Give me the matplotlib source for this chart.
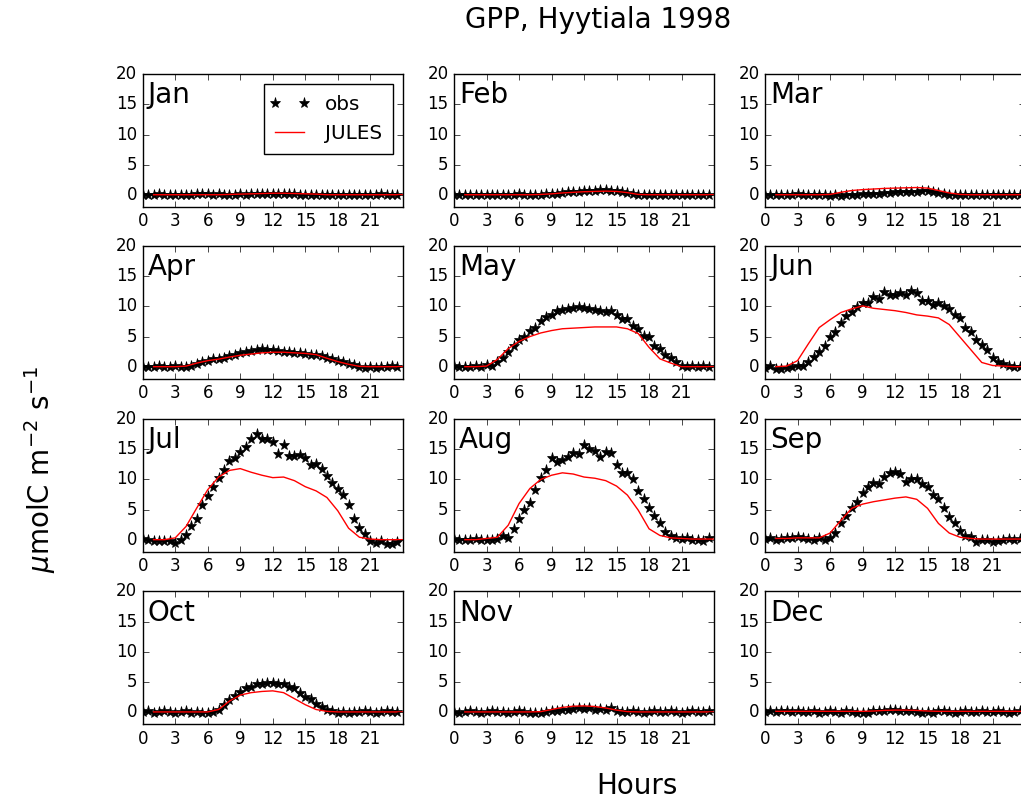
import numpy as np
import matplotlib
matplotlib.use('Agg')
import matplotlib.pyplot as plt
from matplotlib.lines import Line2D
from matplotlib.legend_handler import HandlerLine2D

# half-hourly observations (0.0 ... 23.5 h) and hourly JULES output (1 ... 24 h)
hours_obs = np.arange(0, 24, 0.5)
hours_mod = np.arange(1, 25)

months = ['Jan', 'Feb', 'Mar', 'Apr', 'May', 'Jun',
          'Jul', 'Aug', 'Sep', 'Oct', 'Nov', 'Dec']

jan_obs = [-0.1, 0.0, -0.1, 0.1, 0.0, -0.1, 0.0, 0.0,
           -0.1, 0.0, 0.1, 0.2, 0.1, 0.0, 0.1, 0.0,
           -0.1, 0.0, 0.1, 0.0, 0.1, 0.2, 0.1, 0.2,
           0.2, 0.1, 0.2, 0.1, 0.1, 0.0, -0.1, 0.0,
           0.0, -0.1, 0.0, -0.1, 0.0, 0.0, -0.1, 0.0,
           0.0, -0.1, 0.0, 0.0, 0.1, 0.0, 0.0, -0.1]
jan_mod = [0.0, 0.0, 0.0, 0.0, 0.0, 0.0, 0.0, 0.05, 0.1, 0.15, 0.2, 0.25,
           0.25, 0.2, 0.15, 0.1, 0.0, 0.0, 0.0, 0.0, 0.0, 0.0, 0.0, 0.0]

feb_obs = [-0.1, 0.0, -0.1, 0.0, -0.1, 0.0, 0.0, -0.1,
           0.0, -0.1, 0.0, 0.0, 0.1, 0.0, -0.1, 0.0,
           0.0, 0.1, 0.2, 0.2, 0.3, 0.4, 0.5, 0.5,
           0.6, 0.6, 0.7, 0.8, 0.8, 0.7, 0.6, 0.5,
           0.3, 0.1, 0.0, -0.1, 0.0, -0.1, 0.0, 0.0,
           -0.1, 0.0, 0.0, -0.1, 0.0, 0.0, -0.1, 0.0]
feb_mod = [0.0, 0.0, 0.0, 0.0, 0.0, 0.0, 0.0, 0.05, 0.15, 0.3, 0.4, 0.5,
           0.55, 0.6, 0.55, 0.35, 0.05, 0.0, 0.0, 0.0, 0.0, 0.0, 0.0, 0.0]

mar_obs = [0.0, -0.1, 0.0, 0.0, -0.1, 0.0, 0.1, 0.0,
           -0.1, -0.1, 0.0, -0.1, -0.2, -0.1, -0.2, -0.1,
           -0.1, 0.0, 0.1, 0.1, 0.2, 0.2, 0.3, 0.3,
           0.4, 0.4, 0.5, 0.4, 0.5, 0.6, 0.7, 0.4,
           0.3, 0.1, 0.0, 0.0, -0.1, 0.0, 0.0, -0.1,
           0.0, 0.0, -0.1, 0.0, 0.0, -0.1, 0.0, 0.0]
mar_mod = [0.0, 0.0, 0.0, 0.0, 0.0, 0.05, 0.4, 0.7, 0.85, 0.95, 1.05, 1.1,
           1.15, 1.2, 1.1, 0.7, 0.3, 0.05, 0.0, 0.0, 0.0, 0.0, 0.0, 0.0]

apr_obs = [-0.1, 0.0, 0.0, 0.1, 0.0, 0.0, 0.1, 0.0,
           0.0, 0.1, 0.4, 0.7, 1.0, 1.2, 1.3, 1.5,
           1.7, 1.9, 2.2, 2.4, 2.6, 2.8, 2.9, 2.8,
           2.7, 2.6, 2.5, 2.4, 2.3, 2.2, 2.1, 2.0,
           1.9, 1.7, 1.5, 1.2, 1.0, 0.7, 0.4, 0.2,
           0.0, -0.2, -0.1, -0.2, 0.0, 0.0, 0.1, 0.0]
apr_mod = [0.0, 0.0, 0.0, 0.1, 0.6, 1.0, 1.25, 1.6, 1.9, 2.1, 2.3, 2.4,
           2.4, 2.3, 2.2, 2.0, 1.4, 0.85, 0.4, 0.05, 0.0, 0.0, 0.0, 0.0]

may_obs = [0.1, 0.0, -0.1, 0.0, 0.1, 0.0, 0.2, 0.1,
           0.8, 1.5, 2.5, 3.4, 4.5, 5.0, 6.0, 6.5,
           7.6, 8.2, 8.6, 9.2, 9.4, 9.6, 9.7, 9.9,
           9.7, 9.5, 9.4, 9.2, 9.0, 9.2, 8.5, 7.9,
           8.0, 6.8, 6.2, 5.1, 5.0, 3.4, 2.9, 2.0,
           1.4, 0.7, 0.1, 0.0, 0.1, -0.1, 0.1, 0.0]
may_mod = [0.0, 0.0, 0.1, 1.2, 3.0, 4.2, 5.0, 5.6, 6.0, 6.3, 6.4, 6.5,
           6.6, 6.6, 6.6, 6.3, 5.5, 3.2, 1.3, 0.6, 0.0, 0.0, 0.0, 0.0]

jun_obs = [-0.2, 0.1, -0.4, -0.4, -0.2, 0.0, 0.1, 0.1,
           0.8, 1.6, 2.5, 3.4, 5.0, 5.8, 7.2, 8.4,
           9.0, 9.9, 10.6, 10.6, 11.5, 11.2, 12.4, 11.9,
           11.9, 12.3, 11.9, 12.6, 12.2, 10.9, 10.9, 10.2,
           10.6, 10.0, 9.6, 8.5, 8.1, 6.4, 5.8, 4.4,
           3.6, 2.8, 1.4, 0.7, 0.4, 0.1, 0.0, -0.1]
jun_mod = [0.0, 0.1, 1.0, 3.8, 6.5, 7.8, 9.0, 9.6, 10.1, 9.7, 9.5, 9.3,
           9.0, 8.6, 8.4, 8.1, 7.0, 4.9, 2.8, 0.7, 0.2, 0.1, 0.0, 0.0]

jul_obs = [0.1, 0.0, -0.3, -0.3, -0.3, -0.2, -0.5, 0.0,
           0.8, 2.2, 3.5, 5.8, 7.3, 8.8, 10.2, 11.5,
           13.1, 13.5, 14.5, 15.4, 16.8, 17.5, 16.7, 16.7,
           16.3, 14.3, 15.8, 13.9, 13.9, 14.0, 13.5, 12.4,
           12.6, 11.7, 10.5, 9.4, 8.4, 7.4, 5.8, 3.4,
           2.0, 1.0, -0.2, -0.6, -0.3, -0.8, -0.7, -0.4]
jul_mod = [0.0, 0.0, 0.3, 2.2, 5.3, 8.3, 10.4, 11.5, 11.8, 11.2, 10.7, 10.3,
           10.4, 9.8, 8.8, 8.1, 7.0, 4.8, 1.9, 0.4, 0.1, 0.0, 0.0, 0.0]

aug_obs = [0.1, 0.0, -0.1, 0.0, 0.1, 0.0, -0.1, 0.0,
           0.1, 0.6, 0.3, 1.8, 3.4, 4.9, 6.1, 8.3,
           10.2, 11.6, 13.5, 12.9, 13.3, 13.7, 14.4, 14.3,
           15.8, 15.0, 14.7, 13.8, 14.6, 14.4, 12.4, 11.0,
           11.0, 10.0, 8.1, 6.7, 5.3, 3.9, 2.8, 1.3,
           0.6, 0.3, 0.1, 0.2, -0.1, 0.0, -0.3, 0.2]
aug_mod = [0.0, 0.0, 0.2, 0.4, 2.4, 6.0, 8.5, 10.0, 10.7, 11.1, 10.9, 10.4,
           10.2, 9.8, 8.9, 7.4, 4.9, 1.8, 0.7, 0.3, 0.2, 0.1, 0.1, 0.1]

sep_obs = [0.1, 0.2, 0.0, 0.1, 0.2, 0.3, 0.4, 0.2,
           0.1, -0.1, 0.2, 0.0, 0.3, 1.1, 2.7, 3.9,
           5.2, 6.3, 7.8, 8.7, 9.4, 9.3, 10.4, 11.1,
           11.3, 10.9, 9.6, 10.1, 10.0, 9.2, 8.7, 7.4,
           6.8, 5.3, 3.8, 2.7, 1.4, 0.6, 0.4, -0.4,
           -0.1, 0.0, -0.4, -0.3, 0.0, 0.1, 0.0, 0.1]
sep_mod = [0.2, 0.2, 0.3, 0.3, 0.3, 1.1, 3.2, 5.2, 5.9, 6.3, 6.6, 6.9,
           7.1, 6.7, 5.2, 2.7, 1.1, 0.4, 0.2, 0.1, 0.1, 0.1, 0.1, 0.1]

oct_obs = [0.0, 0.1, -0.1, 0.0, 0.1, 0.0, -0.1, 0.0,
           0.1, -0.1, 0.0, -0.1, -0.1, 0.0, 0.3, 1.1,
           1.9, 2.6, 3.3, 3.9, 4.1, 4.7, 4.6, 4.8,
           4.8, 4.7, 4.6, 4.2, 3.9, 3.2, 2.5, 2.1,
           1.4, 0.9, 0.4, 0.1, -0.1, 0.0, -0.1, 0.0,
           0.0, 0.1, 0.0, -0.1, 0.0, 0.1, 0.0, 0.0]
oct_mod = [0.0, 0.0, 0.0, 0.0, 0.0, 0.0, 0.4, 1.8, 2.8, 3.2, 3.4, 3.5,
           3.2, 2.2, 1.2, 0.4, 0.1, 0.0, 0.0, 0.0, 0.0, 0.0, 0.0, 0.0]

nov_obs = [0.0, -0.1, 0.0, 0.1, 0.0, -0.1, 0.0, 0.1,
           0.0, 0.0, -0.1, 0.0, 0.1, 0.0, -0.1, -0.1,
           -0.1, 0.0, 0.1, 0.2, 0.3, 0.4, 0.5, 0.6,
           0.5, 0.6, 0.4, 0.5, 0.3, 0.6, 0.2, 0.0,
           0.0, 0.1, 0.0, -0.1, 0.0, 0.1, 0.0, 0.0,
           0.1, 0.0, -0.1, 0.0, 0.1, 0.0, 0.0, 0.1]
nov_mod = [0.0, 0.0, 0.0, 0.0, 0.0, 0.0, 0.0, 0.05, 0.4, 0.75, 0.95, 1.0,
           0.9, 0.65, 0.3, 0.05, 0.0, 0.0, 0.0, 0.0, 0.0, 0.0, 0.0, 0.0]

dec_obs = [0.0, 0.1, 0.0, 0.2, 0.1, 0.0, 0.1, 0.0,
           0.0, 0.1, -0.1, 0.0, 0.1, 0.0, -0.1, 0.1,
           0.0, -0.1, -0.2, -0.1, 0.1, 0.2, 0.2, 0.3,
           0.3, 0.2, 0.2, 0.1, 0.0, -0.1, 0.0, -0.1,
           0.1, 0.2, 0.0, -0.1, 0.0, 0.1, 0.0, 0.0,
           0.1, 0.0, 0.0, 0.1, 0.0, -0.1, 0.0, 0.1]
dec_mod = [0.1, 0.1, 0.1, 0.1, 0.1, 0.1, 0.1, 0.1, 0.1, 0.15, 0.25, 0.3,
           0.3, 0.25, 0.15, 0.1, 0.1, 0.1, 0.1, 0.1, 0.1, 0.1, 0.1, 0.1]

obs = [jan_obs, feb_obs, mar_obs, apr_obs, may_obs, jun_obs,
       jul_obs, aug_obs, sep_obs, oct_obs, nov_obs, dec_obs]
mod = [jan_mod, feb_mod, mar_mod, apr_mod, may_mod, jun_mod,
       jul_mod, aug_mod, sep_mod, oct_mod, nov_mod, dec_mod]

plt.style.use('classic')
plt.rcParams['figure.facecolor'] = 'white'
plt.rcParams['savefig.facecolor'] = 'white'
plt.rcParams['mathtext.fontset'] = 'dejavusans'

fig = plt.figure(figsize=(10.21, 7.99), dpi=100)

# panel geometry (figure fractions)
lefts = [0.1398, 0.4447, 0.7493]
bottoms = [0.7412, 0.5260, 0.3095, 0.0939]
w, h = 0.2547, 0.1658

for i in range(12):
    r, c = divmod(i, 3)
    ax = fig.add_axes([lefts[c], bottoms[r], w, h])
    ax.plot(hours_obs, obs[i], 'k*', markersize=8, label='obs')
    ax.plot(hours_mod, mod[i], 'r-', label='JULES')
    ax.set_xlim(0, 24)
    ax.set_ylim(-2, 20)
    ax.set_xticks(np.arange(0, 24, 3))
    ax.set_yticks([0, 5, 10, 15, 20])
    ax.text(0.02, 0.78, months[i], transform=ax.transAxes, fontsize=20)
    if i == 0:
        # markers sit at the very ends of the legend handle
        ax.legend(loc='upper right', handlelength=1.45, handletextpad=1.05,
                  borderpad=0.55,
                  handler_map={Line2D: HandlerLine2D(marker_pad=0)})

fig.text(0.586, 0.975, 'GPP, Hyytiala 1998', ha='center', va='center', fontsize=20)
fig.text(0.624, 0.016, 'Hours', ha='center', va='center', fontsize=20)
fig.text(0.039, 0.412, r'$\mu$molC m$^{-2}$ s$^{-1}$', ha='center', va='center',
         rotation=90, fontsize=20)

fig.savefig('out.png', dpi=100)
